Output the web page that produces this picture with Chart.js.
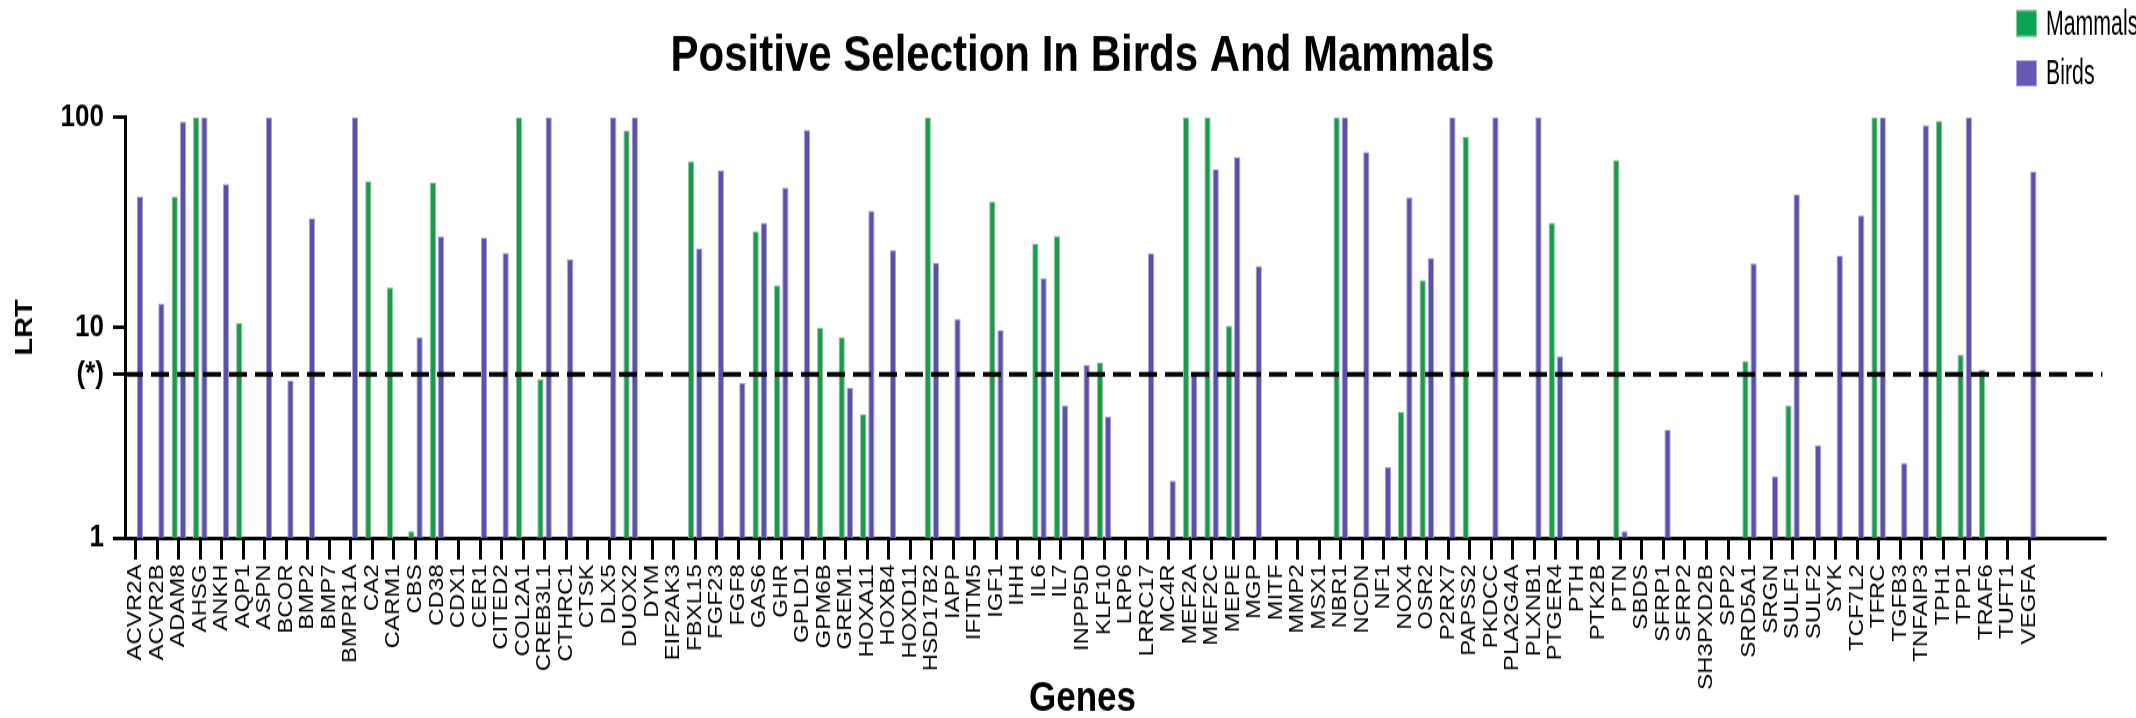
<!DOCTYPE html>
<html>
<head>
<meta charset="utf-8">
<title>Positive Selection In Birds And Mammals</title>
<script src="https://cdn.jsdelivr.net/npm/chart.js@4.4.1/dist/chart.umd.min.js"></script>
<style>
    html, body { margin: 0; padding: 0; background: #ffffff; }
    #wrap { width: 2136px; height: 718px; overflow: hidden; }
    /* the original figure is stretched vertically, so the chart is drawn flatter and scaled up */
    #chart { transform-origin: 0 0; transform: scaleY(1.2007); }
</style>
</head>
<body>
<div id="wrap">
    <canvas id="chart" width="2136" height="598"></canvas>
</div>
<script>
var chartTitle = 'Positive Selection In Birds And Mammals';
var seriesNames = ['Mammals', 'Birds'];

var genes = ['ACVR2A', 'ACVR2B', 'ADAM8', 'AHSG', 'ANKH', 'AQP1', 'ASPN', 'BCOR', 'BMP2', 'BMP7',
    'BMPR1A', 'CA2', 'CARM1', 'CBS', 'CD38', 'CDX1', 'CER1', 'CITED2', 'COL2A1', 'CREB3L1',
    'CTHRC1', 'CTSK', 'DLX5', 'DUOX2', 'DYM', 'EIF2AK3', 'FBXL15', 'FGF23', 'FGF8', 'GAS6',
    'GHR', 'GPLD1', 'GPM6B', 'GREM1', 'HOXA11', 'HOXB4', 'HOXD11', 'HSD17B2', 'IAPP', 'IFITM5',
    'IGF1', 'IHH', 'IL6', 'IL7', 'INPP5D', 'KLF10', 'LRP6', 'LRRC17', 'MC4R', 'MEF2A',
    'MEF2C', 'MEPE', 'MGP', 'MITF', 'MMP2', 'MSX1', 'NBR1', 'NCDN', 'NF1', 'NOX4',
    'OSR2', 'P2RX7', 'PAPSS2', 'PKDCC', 'PLA2G4A', 'PLXNB1', 'PTGER4', 'PTH', 'PTK2B', 'PTN',
    'SBDS', 'SFRP1', 'SFRP2', 'SH3PXD2B', 'SPP2', 'SRD5A1', 'SRGN', 'SULF1', 'SULF2', 'SYK',
    'TCF7L2', 'TFRC', 'TGFB3', 'TNFAIP3', 'TPH1', 'TPP1', 'TRAF6', 'TUFT1', 'VEGFA'];

// LRT values, null = no bar (LRT <= 1)
var mammals = [null, null, 42, 100, null, 10.5, null, null, null, null,
    null, 49.5, 15.5, 1.08, 48.8, null, null, null, 100, 5.7,
    null, null, null, 86.4, null, null, 61.6, null, null, 28.7,
    15.9, null, 9.95, 9.0, 3.88, null, null, 100, null, null,
    39.5, null, 25.0, 27.2, null, 6.83, null, null, null, 100,
    100, 10.2, null, null, null, null, 100, null, null, 3.97,
    16.8, null, 80.6, null, null, null, 31.4, null, null, 62.5,
    null, null, null, null, null, 6.93, null, 4.27, null, null,
    null, 100, null, null, 96.1, 7.43, 6.31, null, null];

var birds = [42, 13, 95, 100, 48, null, 100, 5.6, 33, null,
    100, null, null, 9.0, 27.1, null, 26.8, 22.6, null, 100,
    21.1, null, 100, 100, null, null, 23.7, 55.8, 5.47, 31.4,
    46.2, 86.7, null, 5.18, 35.8, 23.3, null, 20.3, 11.0, null,
    9.7, null, 17.2, 4.27, 6.66, 3.78, null, 22.5, 1.87, 6.17,
    56.4, 64.6, 19.6, null, null, null, 100, 68.2, 2.18, 41.5,
    21.4, 100, null, 100, null, 100, 7.32, null, null, 1.08,
    null, 3.27, null, null, null, 20.2, 1.97, 42.8, 2.76, 21.9,
    34.1, 100, 2.27, 91.3, null, 100, null, null, 55.2];

var yTicks = [1, 5.99, 10, 100];
var yTickLabels = ['1', '(*)', '10', '100'];
var threshold = 5.99;

var fontFamily = '"Liberation Sans", Arial, Helvetica, sans-serif';

document.addEventListener('DOMContentLoaded', function() {
    var ctx = document.getElementById('chart').getContext('2d');

    // dashed significance line + x axis running on past the last gene
    var extrasPlugin = {
        id: 'extras',
        afterDatasetsDraw: function(chart) {
            var x = chart.scales.x;
            var y = chart.scales.y;
            var c = chart.ctx;
            var yPos = y.getPixelForValue(threshold);
            c.save();
            c.strokeStyle = '#000';
            c.lineWidth = 4;
            c.setLineDash([18, 8]);
            c.beginPath();
            c.moveTo(chart.chartArea.left, yPos);
            c.lineTo(x.getPixelForValue(genes.length - 1 + 3.4), yPos);
            c.stroke();
            c.setLineDash([]);
            c.lineWidth = 3;
            c.beginPath();
            c.moveTo(chart.chartArea.right - 2, x.top + 0.5);
            c.lineTo(x.getPixelForValue(genes.length - 1 + 3.6), x.top + 0.5);
            c.stroke();
            c.restore();
        },
        afterDraw: function(chart) {
            // legend, stacked in the top right corner (narrow type like the original)
            var c = chart.ctx;
            chart.data.datasets.forEach(function(ds, i) {
                var cy = 19.5 + i * 41.5;
                c.save();
                c.fillStyle = ds.legendColor;
                c.fillRect(2016, cy - 11, 21, 22);
                c.strokeStyle = ds.borderColor;
                c.lineWidth = 1;
                c.strokeRect(2016.5, cy - 10.5, 20, 21);
                c.translate(2046, cy + 1);
                c.scale(0.71, 1);
                c.font = '30px ' + fontFamily;
                c.textBaseline = 'middle';
                c.textAlign = 'left';
                c.fillStyle = '#000';
                c.fillText(ds.label, 0, 0);
                c.restore();
            });
        }
    };

    new Chart(ctx, {
        type: 'bar',
        data: {
            labels: genes,
            datasets: [{
                label: seriesNames[0],
                data: mammals,
                backgroundColor: '#1b9a4e',
                borderColor: '#8ccaa2',
                legendColor: '#0aa552',
                borderWidth: 1,
                borderSkipped: 'bottom'
            }, {
                label: seriesNames[1],
                data: birds,
                backgroundColor: '#5a50a8',
                borderColor: '#aaa4da',
                legendColor: '#6659b6',
                borderWidth: 1,
                borderSkipped: 'bottom'
            }]
        },
        options: {
            responsive: false,
            animation: false,
            devicePixelRatio: 1,
            layout: {
                padding: { top: 0, right: 96, bottom: 0, left: 0 }
            },
            datasets: {
                bar: {
                    categoryPercentage: 0.763,
                    barPercentage: 0.77
                }
            },
            plugins: {
                legend: { display: false },
                tooltip: { enabled: false },
                title: {
                    display: true,
                    text: chartTitle,
                    color: '#000',
                    fullSize: false,
                    font: { family: fontFamily, size: 42, weight: 'bold', lineHeight: 1.2 },
                    padding: { top: 22, bottom: 25 }
                }
            },
            scales: {
                x: {
                    type: 'category',
                    offset: true,
                    afterFit: function(scale) { scale.height = 150; },
                    grid: {
                        offset: false,
                        drawOnChartArea: false,
                        tickLength: 18,
                        tickWidth: 3,
                        tickColor: '#000'
                    },
                    border: { display: true, color: '#000', width: 3 },
                    ticks: {
                        autoSkip: false,
                        minRotation: 90,
                        maxRotation: 90,
                        padding: 4,
                        color: '#000',
                        font: { family: fontFamily, size: 20 }
                    },
                    title: {
                        display: true,
                        text: 'Genes',
                        color: '#000',
                        font: { family: fontFamily, size: 35, weight: 'bold', lineHeight: 0.9 },
                        padding: { top: 0, bottom: 0 }
                    }
                },
                y: {
                    type: 'logarithmic',
                    min: 1,
                    max: 100,
                    afterFit: function(scale) { scale.width = 125; },
                    afterBuildTicks: function(scale) {
                        scale.ticks = yTicks.map(function(v) { return { value: v }; });
                    },
                    grid: {
                        drawOnChartArea: false,
                        tickLength: 12,
                        tickWidth: 3,
                        tickColor: '#000'
                    },
                    border: { display: true, color: '#000', width: 3 },
                    ticks: {
                        padding: 9,
                        color: '#000',
                        font: { family: fontFamily, size: 26, weight: 'bold' },
                        callback: function(value) {
                            var i = yTicks.indexOf(value);
                            return i >= 0 ? yTickLabels[i] : '';
                        }
                    },
                    title: {
                        display: true,
                        text: 'LRT',
                        color: '#000',
                        font: { family: fontFamily, size: 24, weight: 'bold', lineHeight: 1 },
                        padding: { top: 13, bottom: 0 }
                    }
                }
            }
        },
        plugins: [extrasPlugin]
    });
});
</script>
</body>
</html>
